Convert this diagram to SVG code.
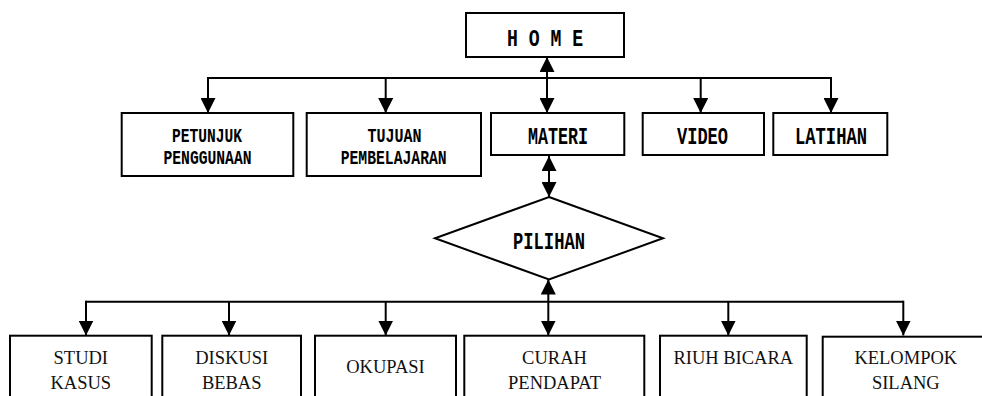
<svg xmlns="http://www.w3.org/2000/svg" width="982" height="396" viewBox="0 0 982 396">
<style>
  .box { fill: #fff; stroke: #000; stroke-width: 2; }
  .conn { fill: none; stroke: #000; stroke-width: 2; }
  .t1 { font-family: "Liberation Mono", "DejaVu Sans Mono", monospace; font-weight: bold; text-anchor: middle; fill: #000; }
  .t2 { font-family: "Liberation Serif", "Times New Roman", serif; font-size: 18.5px; text-anchor: middle; fill: #111; }
</style>
<defs>
  <marker id="arr" markerUnits="userSpaceOnUse" markerWidth="15" markerHeight="15" refX="15" refY="7.5" orient="auto-start-reverse" viewBox="0 0 15 15">
    <path d="M0,0 L15,7.5 L0,15 z" fill="#000"/>
  </marker>
</defs>
<rect width="982" height="396" fill="#fff"/>

<g id="connectors">
  <path class="conn" d="M208,78 H831"/>
  <path class="conn" d="M208,77 V113" marker-end="url(#arr)"/>
  <path class="conn" d="M385.7,78 V113" marker-end="url(#arr)"/>
  <path class="conn" d="M700.7,78 V113" marker-end="url(#arr)"/>
  <path class="conn" d="M831,77 V113" marker-end="url(#arr)"/>
  <path class="conn" d="M547,57 V113" marker-start="url(#arr)" marker-end="url(#arr)"/>
  <path class="conn" d="M549,156 V197" marker-start="url(#arr)" marker-end="url(#arr)"/>
  <path class="conn" d="M86,301.7 H903.3"/>
  <path class="conn" d="M86,300.7 V335.5" marker-end="url(#arr)"/>
  <path class="conn" d="M229,301.7 V335.5" marker-end="url(#arr)"/>
  <path class="conn" d="M385.7,301.7 V335.5" marker-end="url(#arr)"/>
  <path class="conn" d="M728.3,301.7 V335.5" marker-end="url(#arr)"/>
  <path class="conn" d="M903.3,300.7 V335.5" marker-end="url(#arr)"/>
  <path class="conn" d="M548.3,279.5 V335.5" marker-start="url(#arr)" marker-end="url(#arr)"/>
</g>

<g id="home">
  <rect class="box" x="466" y="13" width="158" height="44"/>
  <text class="t1" x="545" y="45.7" font-size="24" textLength="76" lengthAdjust="spacingAndGlyphs">H O M E</text>
</g>
<g id="petunjuk">
  <rect class="box" x="121.7" y="113" width="171.6" height="63"/>
  <text class="t1" x="207" y="141.7" font-size="21" textLength="70" lengthAdjust="spacingAndGlyphs">PETUNJUK</text>
  <text class="t1" x="207.5" y="164" font-size="21" textLength="88" lengthAdjust="spacingAndGlyphs">PENGGUNAAN</text>
</g>
<g id="tujuan">
  <rect class="box" x="306.7" y="113" width="174.3" height="63"/>
  <text class="t1" x="394.5" y="141.7" font-size="21" textLength="54" lengthAdjust="spacingAndGlyphs">TUJUAN</text>
  <text class="t1" x="393.7" y="164" font-size="21" textLength="106" lengthAdjust="spacingAndGlyphs">PEMBELAJARAN</text>
</g>
<g id="materi">
  <rect class="box" x="491" y="113" width="133.3" height="42"/>
  <text class="t1" x="558" y="144" font-size="23" textLength="60" lengthAdjust="spacingAndGlyphs">MATERI</text>
</g>
<g id="video">
  <rect class="box" x="642.7" y="113" width="121.3" height="42"/>
  <text class="t1" x="702.5" y="144" font-size="23" textLength="51" lengthAdjust="spacingAndGlyphs">VIDEO</text>
</g>
<g id="latihan">
  <rect class="box" x="773.3" y="113" width="114" height="42"/>
  <text class="t1" x="831" y="144" font-size="23" textLength="72" lengthAdjust="spacingAndGlyphs">LATIHAN</text>
</g>
<g id="pilihan">
  <polygon class="box" points="549,197 663,238.3 549,279.5 435,238.3"/>
  <text class="t1" x="549" y="249" font-size="23" textLength="72" lengthAdjust="spacingAndGlyphs">PILIHAN</text>
</g>

<g id="studi-kasus">
  <rect class="box" x="10" y="335.7" width="141.7" height="80"/>
  <text class="t2" x="80.8" y="364.3">STUDI</text>
  <text class="t2" x="80.8" y="388.5">KASUS</text>
</g>
<g id="diskusi-bebas">
  <rect class="box" x="162.3" y="335.7" width="138.7" height="80"/>
  <text class="t2" x="231.7" y="364.3">DISKUSI</text>
  <text class="t2" x="231.7" y="388.5">BEBAS</text>
</g>
<g id="okupasi">
  <rect class="box" x="315" y="335.7" width="141" height="80"/>
  <text class="t2" x="385.5" y="373">OKUPASI</text>
</g>
<g id="curah-pendapat">
  <rect class="box" x="464.3" y="335.7" width="180" height="80"/>
  <text class="t2" x="554.5" y="364.3">CURAH</text>
  <text class="t2" x="554.5" y="388.5">PENDAPAT</text>
</g>
<g id="riuh-bicara">
  <rect class="box" x="660" y="335.7" width="146.7" height="80"/>
  <text class="t2" x="733.3" y="364.3">RIUH BICARA</text>
</g>
<g id="kelompok-silang">
  <rect class="box" x="822.7" y="336.7" width="166" height="80"/>
  <text class="t2" x="905.8" y="364.3">KELOMPOK</text>
  <text class="t2" x="905.8" y="388.5">SILANG</text>
</g>
</svg>
